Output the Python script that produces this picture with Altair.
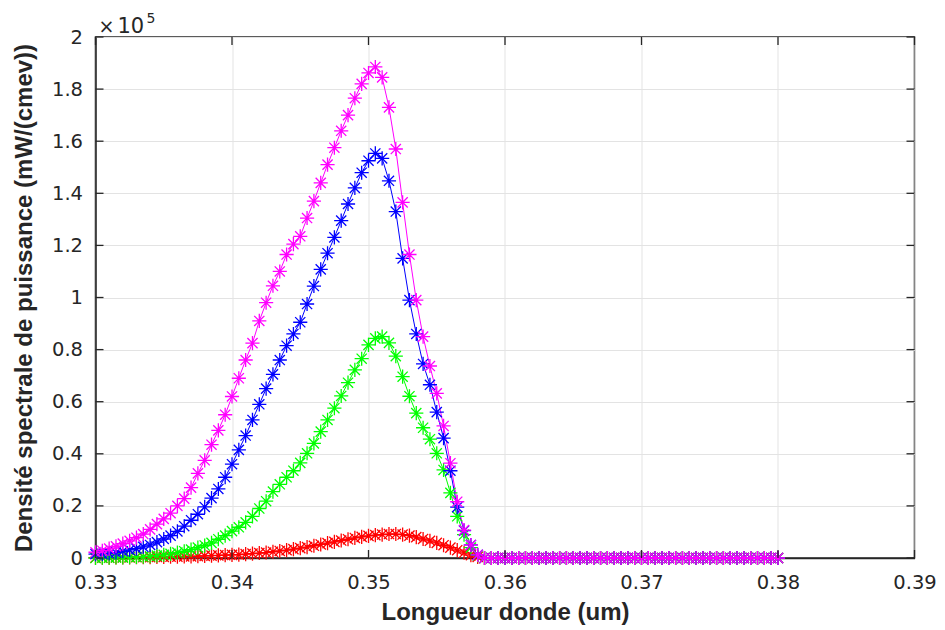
import altair as alt
import pandas as pd

# ---------------- data (values in units of 1e5) ----------------
wavelength = [round(0.33 + 0.0005 * i, 4) for i in range(101)]
ZERO_TAIL = [0.0] * 44  # flat part 0.3585 .. 0.38

red_vals = [0.001, 0.001, 0.001, 0.002, 0.002, 0.002, 0.003, 0.003, 0.003, 0.004,
            0.004, 0.005, 0.005, 0.006, 0.006, 0.007, 0.008, 0.009, 0.010, 0.011,
            0.012, 0.013, 0.015, 0.017, 0.019, 0.021, 0.024, 0.027, 0.030, 0.034,
            0.038, 0.042, 0.047, 0.052, 0.057, 0.062, 0.067, 0.072, 0.077, 0.081,
            0.085, 0.088, 0.090, 0.092, 0.092, 0.090, 0.086, 0.080, 0.073, 0.066,
            0.058, 0.049, 0.040, 0.030, 0.020, 0.011, 0.004] + ZERO_TAIL

green_vals = [0.000, 0.001, 0.001, 0.002, 0.002, 0.003, 0.004, 0.005, 0.007, 0.009,
              0.012, 0.016, 0.021, 0.026, 0.032, 0.040, 0.048, 0.058, 0.072, 0.086,
              0.103, 0.118, 0.137, 0.160, 0.190, 0.218, 0.255, 0.283, 0.310, 0.335,
              0.365, 0.402, 0.440, 0.485, 0.530, 0.575, 0.622, 0.673, 0.722, 0.765,
              0.818, 0.843, 0.850, 0.826, 0.775, 0.696, 0.621, 0.556, 0.500, 0.456,
              0.402, 0.338, 0.250, 0.160, 0.090, 0.040, 0.010] + ZERO_TAIL

blue_vals = [0.015, 0.016, 0.018, 0.021, 0.026, 0.031, 0.036, 0.043, 0.050, 0.061,
             0.073, 0.086, 0.102, 0.122, 0.145, 0.168, 0.196, 0.230, 0.265, 0.310,
             0.360, 0.415, 0.470, 0.530, 0.590, 0.650, 0.705, 0.760, 0.815, 0.860,
             0.905, 0.975, 1.044, 1.108, 1.170, 1.231, 1.295, 1.359, 1.421, 1.479,
             1.525, 1.553, 1.534, 1.448, 1.330, 1.150, 0.990, 0.860, 0.745, 0.665,
             0.560, 0.460, 0.335, 0.195, 0.105, 0.050, 0.012] + ZERO_TAIL

magenta_vals = [0.022, 0.028, 0.036, 0.045, 0.055, 0.066, 0.078, 0.092, 0.110, 0.130,
                0.150, 0.172, 0.200, 0.228, 0.270, 0.325, 0.375, 0.435, 0.490, 0.550,
                0.620, 0.690, 0.760, 0.825, 0.910, 0.980, 1.045, 1.100, 1.165, 1.205,
                1.235, 1.305, 1.370, 1.440, 1.510, 1.575, 1.640, 1.700, 1.765, 1.820,
                1.862, 1.885, 1.845, 1.730, 1.570, 1.365, 1.165, 0.990, 0.850, 0.737,
                0.632, 0.507, 0.364, 0.216, 0.107, 0.050, 0.012] + ZERO_TAIL

series_names = ["red", "green", "blue", "magenta"]
series_colors = ["#FF0000", "#00FF00", "#0000FF", "#FF00FF"]
series_values = [red_vals, green_vals, blue_vals, magenta_vals]

x_ticks = [0.33, 0.34, 0.35, 0.36, 0.37, 0.38, 0.39]
y_ticks = [0, 0.2, 0.4, 0.6, 0.8, 1, 1.2, 1.4, 1.6, 1.8, 2]

rows = []
for name, vals in zip(series_names, series_values):
    for xv, yv in zip(wavelength, vals):
        rows.append({"series": name, "x": xv, "y": yv})
df = pd.DataFrame(rows)

# ---------------- layout ----------------
W, H = 819, 521
TXT = "#262626"
STAR = "M-1,0L1,0M0,-1L0,1M-0.72,-0.72L0.72,0.72M-0.72,0.72L0.72,-0.72"

x_enc = alt.X("x:Q", scale=alt.Scale(domain=[0.33, 0.39], nice=False, zero=False),
              axis=alt.Axis(values=x_ticks, format="~g", title="Longueur donde (um)",
                            labelFlush=False, labelPadding=15,
                            titleY=54, titleBaseline="middle"))
y_enc = alt.Y("y:Q", scale=alt.Scale(domain=[0, 2], nice=False),
              axis=alt.Axis(values=y_ticks, format="~g",
                            title="Densité spectrale de puissance (mW/(cmev))",
                            labelFlush=False, labelPadding=13,
                            titleX=-71, titleY=H / 2, titleAngle=270,
                            titleAlign="center", titleBaseline="middle"))
color_enc = alt.Color("series:N", scale=alt.Scale(domain=series_names, range=series_colors),
                      legend=None)

base = alt.Chart(df)
lines = base.mark_line(strokeWidth=1).encode(x=x_enc, y=y_enc, color=color_enc,
                                             order="x:Q")
points = base.mark_point(shape=STAR, filled=False, size=200, strokeWidth=1.3,
                         opacity=1).encode(x=x_enc, y=y_enc, color=color_enc)

xt = pd.DataFrame({"x": x_ticks})
yt = pd.DataFrame({"y": y_ticks})
TL = 8
tick_style = dict(color=TXT, strokeWidth=1.3)
bt = alt.Chart(xt).mark_rule(**tick_style).encode(x="x:Q", y=alt.value(H), y2=alt.value(H - TL))
tt = alt.Chart(xt).mark_rule(**tick_style).encode(x="x:Q", y=alt.value(0), y2=alt.value(TL))
lt = alt.Chart(yt).mark_rule(**tick_style).encode(y="y:Q", x=alt.value(0), x2=alt.value(TL))
rt = alt.Chart(yt).mark_rule(**tick_style).encode(y="y:Q", x=alt.value(W), x2=alt.value(W - TL))

one = pd.DataFrame({"k": [0]})
times = alt.Chart(one).mark_text(text="×", font="DejaVu Sans", fontSize=19, color=TXT,
                                 align="left", baseline="alphabetic").encode(
    x=alt.value(3), y=alt.value(-4))
ten = alt.Chart(one).mark_text(text="10", font="DejaVu Sans", fontSize=21, color=TXT,
                               align="left", baseline="alphabetic").encode(
    x=alt.value(22), y=alt.value(-4))
five = alt.Chart(one).mark_text(text="5", font="DejaVu Sans", fontSize=14, color=TXT,
                                align="left", baseline="alphabetic").encode(
    x=alt.value(51), y=alt.value(-14))

chart = alt.layer(lines, points, bt, tt, lt, rt, times, ten, five).properties(
    width=W, height=H,
    autosize=alt.AutoSizeParams(type="none"),
    padding={"left": 87.5, "top": 29, "right": 22, "bottom": 70},
).configure_view(stroke=TXT, strokeWidth=1.5).configure_axis(
    grid=True, gridColor="#e3e3e3", gridWidth=1,
    domainColor=TXT, domainWidth=1.5,
    ticks=False, tickSize=0,
    labelFont="DejaVu Sans", labelFontSize=19.5, labelColor=TXT,
    titleFont="Liberation Sans", titleFontSize=24, titleFontWeight="bold", titleColor=TXT,
)

chart.save("out.html", embed_options={"renderer": "svg", "actions": False})
